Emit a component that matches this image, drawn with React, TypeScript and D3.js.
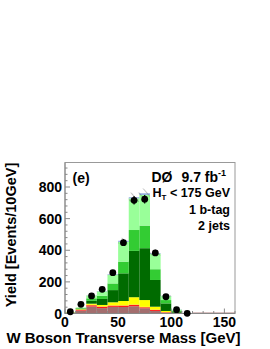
import React from 'react';
import * as d3 from 'd3';

// bins of 10 GeV from 0 to 120
const binEdges = [0, 10, 20, 30, 40, 50, 60, 70, 80, 90, 100, 110, 120];

// stacked backgrounds, bottom to top
const multijet = [3, 18, 44, 34, 42, 41, 46, 33, 16, 5, 2, 0.5];
const zjets = [1, 4, 8, 8, 7, 8, 8, 6, 6, 3, 1, 0.1];
const diboson = [1, 2, 3, 3, 3, 3, 3, 3, 3, 1, 0, 0.1];
const top = [1, 3, 7, 9, 19, 27, 46, 43, 18, 7, 2, 0.3];
const wlf = [1, 4, 18, 38, 77, 175, 293, 328, 169, 48, 8, 0.5];
const wcc = [1, 3, 16, 20, 42, 74, 132, 143, 68, 21, 6, 0.5];
const wbb = [1, 4, 18, 28, 54, 125, 200, 194, 98, 25, 5, 0.5];
const signal = [0, 0, 1, 2, 4, 7, 7, 10, 4, 1, 1, 0];

const dataPoints = [11, 58, 111, 153, 258, 448, 716, 723, 383, 106, 24, 1];

const layers = [
    { name: 'multijet', values: multijet, color: '#a36e6e' },
    { name: 'zjets', values: zjets, color: '#ff1a1a' },
    { name: 'diboson', values: diboson, color: '#ff9900' },
    { name: 'top', values: top, color: '#ffff00' },
    { name: 'wlf', values: wlf, color: '#006b00' },
    { name: 'wcc', values: wcc, color: '#33cc33' },
    { name: 'wbb', values: wbb, color: '#99ff99' },
    { name: 'signal', values: signal, color: '#8aa8dc' },
];

const xTicks = [0, 50, 100, 150];
const yTicks = [0, 200, 400, 600, 800];

const App = () => {
    const width = 270;
    const height = 349;
    const left = 65;
    const right = 235;
    const topY = 162.5;
    const bottom = 313.5;

    const x = d3.scaleLinear().domain([0, 160]).range([left, right]);
    const y = d3.scaleLinear().domain([0, 955]).range([bottom, topY]);

    // cumulative sums
    const stacks = [];
    const running = binEdges.slice(0, -1).map(() => 0);
    layers.forEach(l => {
        const lo = running.slice();
        l.values.forEach((v, i) => { running[i] += v; });
        stacks.push({ ...l, lo, hi: running.slice() });
    });
    const totals = running;

    const minorY = d3.range(0, 955, 40);
    const minorX = d3.range(0, 161, 10);
    const font = 'Liberation Sans, Arial, sans-serif';

    return (
        <svg width={width} height={height} style={{ position: 'absolute', left: 0, top: 0, background: 'white' }}>
            <defs>
                <pattern id="hatch" width="6" height="6" patternUnits="userSpaceOnUse" patternTransform="rotate(-40)">
                    <line x1="0" y1="0" x2="0" y2="6" stroke="#555" strokeWidth="0.7" />
                </pattern>
            </defs>
            <rect x={left} y={topY} width={right - left} height={bottom - topY} fill="white" stroke="#999" strokeWidth={1} />

            {stacks.map(s =>
                s.values.map((v, i) => (
                    <rect key={s.name + i}
                        x={x(binEdges[i])}
                        y={y(s.hi[i])}
                        width={x(binEdges[i + 1]) - x(binEdges[i])}
                        height={Math.max(0, y(s.lo[i]) - y(s.hi[i]))}
                        fill={s.color} />
                ))
            )}

            {/* uncertainty band */}
            {totals.map((t, i) => (
                <rect key={'h' + i}
                    x={x(binEdges[i])}
                    y={y(t * 1.04)}
                    width={x(binEdges[i + 1]) - x(binEdges[i])}
                    height={y(t * 0.96) - y(t * 1.04)}
                    fill="url(#hatch)" />
            ))}

            {/* baseline beyond the bins */}
            <line x1={x(120)} x2={right} y1={bottom - 0.5} y2={bottom - 0.5} stroke="#b08080" strokeWidth={1} />

            {/* axes ticks */}
            {minorY.map(v => (
                <line key={'my' + v} x1={left} x2={left + (v % 200 === 0 ? 5 : 2.5)} y1={y(v)} y2={y(v)} stroke="#888" strokeWidth={1} />
            ))}
            {minorX.map(v => (
                <line key={'mx' + v} x1={x(v)} x2={x(v)} y1={bottom} y2={bottom - (v % 50 === 0 ? 5 : 2.5)} stroke="#888" strokeWidth={1} />
            ))}
            <line x1={left} x2={left} y1={topY} y2={bottom} stroke="#888" strokeWidth={1} />
            <line x1={left} x2={right} y1={bottom} y2={bottom} stroke="#888" strokeWidth={1} />

            {/* data */}
            {dataPoints.map((d, i) => {
                const cx = x((binEdges[i] + binEdges[i + 1]) / 2);
                const err = Math.sqrt(d);
                return (
                    <g key={'d' + i}>
                        <line x1={cx} x2={cx} y1={y(d + err)} y2={y(Math.max(0, d - err))} stroke="black" strokeWidth={1.2} />
                        <circle cx={cx} cy={y(d)} r={3.4} fill="black" />
                    </g>
                );
            })}

            {/* tick labels */}
            <g fontFamily={font} fontWeight="bold" fontSize={14}>
                {yTicks.map(v => (
                    <text key={'yl' + v} x={left - 3} y={y(v) + 5} textAnchor="end">{v}</text>
                ))}
                {xTicks.map(v => (
                    <text key={'xl' + v} x={x(v)} y={326.5} textAnchor="middle">{v}</text>
                ))}
            </g>

            <text x={11} y={235} fontFamily={font} fontWeight="bold" fontSize={14.5}
                textAnchor="middle" transform="rotate(-90 11 235)" dy="0.35em">Yield [Events/10GeV]</text>
            <text x={123.5} y={343} fontFamily={font} fontWeight="bold" fontSize={15} textAnchor="middle">W Boson Transverse Mass [GeV]</text>

            <text x={72.5} y={183} fontFamily={font} fontWeight="bold" fontSize={14}>(e)</text>
            <text x={151.5} y={182} fontFamily={font} fontWeight="bold" fontSize={14}>DØ
                <tspan dx={9}>9.7 fb</tspan>
                <tspan dy={-6} fontSize={9}>-1</tspan>
            </text>
            <text x={230} y={197} fontFamily={font} fontWeight="bold" fontSize={12.5} textAnchor="end">H
                <tspan dy={3} fontSize={8}>T</tspan>
                <tspan dy={-3}> &lt; 175 GeV</tspan>
            </text>
            <text x={230} y={214} fontFamily={font} fontWeight="bold" fontSize={12.5} textAnchor="end">1 b-tag</text>
            <text x={230} y={230} fontFamily={font} fontWeight="bold" fontSize={12.5} textAnchor="end">2 jets</text>
        </svg>
    );
};

export default App;
